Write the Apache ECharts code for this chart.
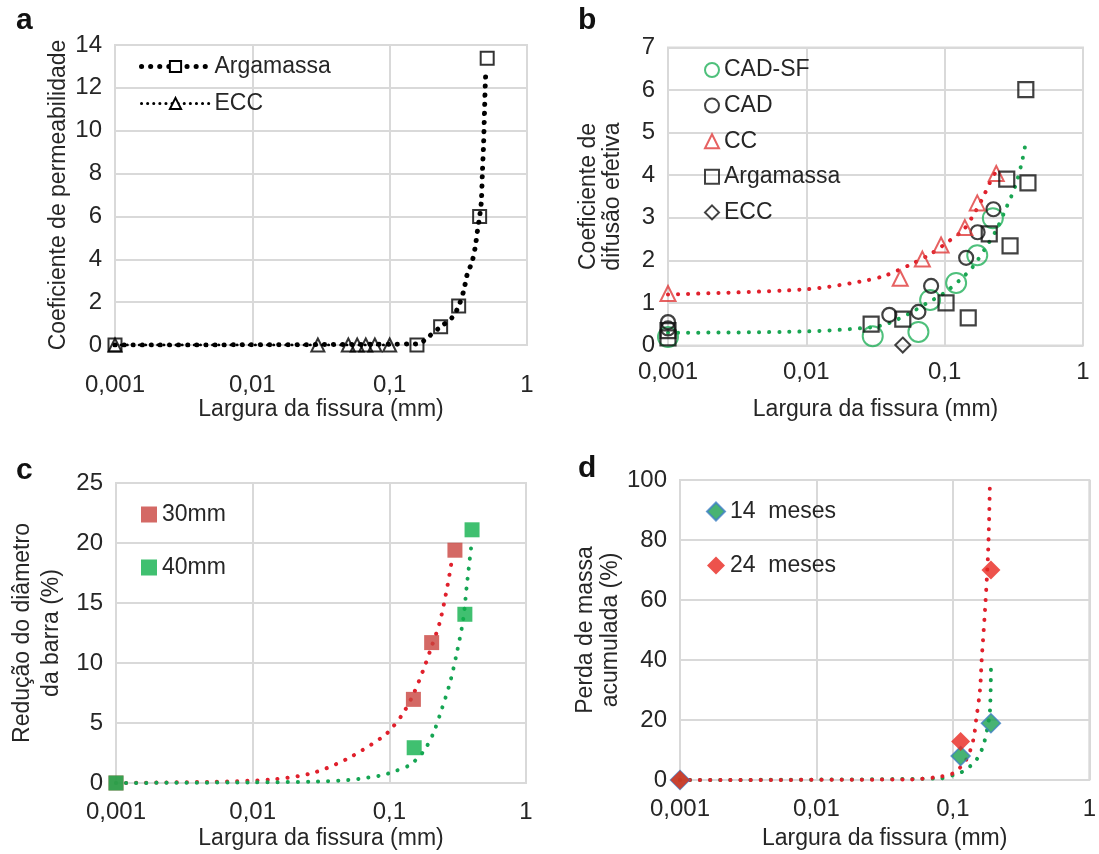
<!DOCTYPE html>
<html>
<head>
<meta charset="utf-8">
<script src="https://cdn.jsdelivr.net/npm/echarts@6/dist/echarts.min.js"></script>
<style>
  html, body { margin: 0; padding: 0; background: #fff; }
  #chart { width: 1099px; height: 854px; }
</style>
</head>
<body>
<div id="chart"></div>
<script>
var xTickLabels = ['0,001', '0,01', '0,1', '1'];

// a - coeficiente de permeabilidade
var aArgX = [0.001, 0.158, 0.235, 0.318, 0.452, 0.513];
var aArgY = [0, 0, 0.85, 1.82, 6.0, 13.38];
var aEccX = [0.001, 0.03, 0.05, 0.058, 0.067, 0.078, 0.1];
var aEccY = [0, 0, 0, 0, 0, 0, 0];
var aArgFitX = [0.001, 0.16, 0.192, 0.235, 0.286, 0.318, 0.347, 0.365, 0.399, 0.42, 0.435, 0.452, 0.465, 0.473, 0.483, 0.49, 0.497, 0.503];
var aArgFitY = [0, 0.05, 0.39, 0.85, 1.29, 1.82, 2.56, 3.24, 3.91, 4.58, 5.3, 6.0, 6.7, 8.0, 9.4, 10.8, 12.2, 12.9];
var aEccFitX = [0.001, 0.1];
var aEccFitY = [0, 0];

// b - coeficiente de difusao efetiva
var bCadSfX = [0.001, 0.0302, 0.0646, 0.0785, 0.121, 0.172, 0.223];
var bCadSfY = [0.2, 0.22, 0.32, 1.07, 1.47, 2.12, 2.99];
var bCadX = [0.001, 0.001, 0.0398, 0.0646, 0.0798, 0.143, 0.173, 0.225];
var bCadY = [0.55, 0.4, 0.72, 0.79, 1.4, 2.06, 2.66, 3.2];
var bCcX = [0.001, 0.0477, 0.069, 0.0942, 0.14, 0.172, 0.236];
var bCcY = [1.22, 1.58, 2.03, 2.36, 2.77, 3.35, 4.04];
var bArgX = [0.001, 0.001, 0.0294, 0.0498, 0.1023, 0.148, 0.21, 0.281, 0.297, 0.386, 0.4];
var bArgY = [0.35, 0.18, 0.5, 0.62, 1.0, 0.65, 2.62, 3.91, 2.34, 6.01, 3.82];
var bEccX = [0.0498];
var bEccY = [0.01];
var bCcFitX = [0.001, 0.01, 0.0244, 0.037, 0.059, 0.08, 0.106, 0.136, 0.161, 0.19, 0.211, 0.236];
var bCcFitY = [1.2, 1.32, 1.5, 1.64, 1.93, 2.16, 2.44, 2.71, 3.06, 3.49, 3.81, 4.1];
var bSfFitX = [0.001, 0.01, 0.03, 0.0392, 0.056, 0.074, 0.098, 0.129, 0.16, 0.2, 0.236, 0.281, 0.323, 0.36, 0.386];
var bSfFitY = [0.3, 0.33, 0.43, 0.52, 0.76, 0.99, 1.22, 1.54, 1.85, 2.32, 2.71, 3.26, 3.73, 4.28, 4.78];

// c - reducao do diametro da barra
var c30X = [0.001, 0.15, 0.204, 0.302];
var c30Y = [0, 6.97, 11.7, 19.4];
var c40X = [0.001, 0.152, 0.357, 0.403];
var c40Y = [0, 2.94, 14.06, 21.1];
var c30FitX = [0.001, 0.005, 0.014, 0.028, 0.05, 0.09, 0.104, 0.126, 0.15, 0.177, 0.2, 0.234, 0.267, 0.285];
var c30FitY = [0, 0.1, 0.3, 0.86, 2.06, 3.86, 4.56, 5.8, 7.4, 9.4, 11.1, 13.4, 16.5, 18.4];
var c40FitX = [0.001, 0.01, 0.03, 0.05, 0.07, 0.09, 0.107, 0.141, 0.177, 0.209, 0.241, 0.277, 0.311, 0.347, 0.37, 0.4];
var c40FitY = [0, 0.05, 0.12, 0.25, 0.45, 0.67, 0.94, 1.5, 2.6, 4.1, 6.1, 8.3, 10.8, 13.6, 16.6, 20.0];

// d - perda de massa acumulada
var d14X = [0.001, 0.114, 0.19];
var d14Y = [0, 8.0, 18.9];
var d24X = [0.001, 0.114, 0.19];
var d24Y = [0, 12.8, 70];
var d24FitX = [0.001, 0.05, 0.074, 0.1, 0.125, 0.141, 0.148, 0.158, 0.1625, 0.172, 0.1815, 0.187];
var d24FitY = [0, 0.2, 0.9, 2.2, 6.7, 13.3, 20, 30, 40, 56.7, 76.7, 100];
var d14FitX = [0.001, 0.08, 0.102, 0.118, 0.137, 0.151, 0.166, 0.178, 0.187, 0.19];
var d14FitY = [0, 0.5, 1.7, 2.8, 5.0, 7.2, 11.1, 16.7, 23.3, 36.9];

function pairs(xs, ys) {
  var out = [];
  for (var i = 0; i < xs.length; i++) out.push([xs[i], ys[i]]);
  return out;
}

var FONT = 'Liberation Sans';
var GRID_COLOR = '#d9d9d9';
var TEXT = '#262626';

function xAxisFor(idx, labelMargin, nameGap) {
  return {
    gridIndex: idx,
    type: 'log',
    logBase: 10,
    min: 0.001,
    max: 1,
    name: 'Largura da fissura (mm)',
    nameLocation: 'middle',
    nameGap: nameGap,
    nameTextStyle: { fontFamily: FONT, fontSize: 23, color: TEXT },
    axisLine: { show: false },
    axisTick: { show: false },
    splitLine: { show: true, lineStyle: { color: GRID_COLOR, width: 2 } },
    axisLabel: {
      fontFamily: FONT, fontSize: 24, color: TEXT, margin: labelMargin,
      formatter: function (v) { return xTickLabels[Math.round(Math.log10(v)) + 3]; }
    }
  };
}

function yAxisFor(idx, max, interval, name, nameGap, lineH) {
  return {
    gridIndex: idx,
    type: 'value',
    min: 0,
    max: max,
    interval: interval,
    name: name,
    nameLocation: 'middle',
    nameRotate: 90,
    nameGap: nameGap,
    nameTextStyle: { fontFamily: FONT, fontSize: 23, color: TEXT, lineHeight: lineH },
    axisLine: { show: false },
    axisTick: { show: false },
    splitLine: { show: true, lineStyle: { color: GRID_COLOR, width: 2 } },
    axisLabel: { fontFamily: FONT, fontSize: 24, color: TEXT, margin: 13 }
  };
}

function fitLine(name, idx, xs, ys, color, width, gap) {
  return {
    name: name,
    type: 'line',
    xAxisIndex: idx,
    yAxisIndex: idx,
    data: pairs(xs, ys),
    smooth: 0.3,
    showSymbol: false,
    symbol: 'none',
    silent: true,
    z: 2,
    lineStyle: { color: color, width: width, type: [0.1, gap], cap: 'round' }
  };
}

function marks(name, idx, xs, ys, symbol, size, style) {
  return {
    name: name,
    type: 'scatter',
    xAxisIndex: idx,
    yAxisIndex: idx,
    data: pairs(xs, ys),
    symbol: symbol,
    symbolSize: size,
    z: 3,
    itemStyle: style
  };
}

function hollow(color, w) {
  return { color: 'rgba(0,0,0,0)', borderColor: color, borderWidth: w };
}

var chart = echarts.init(document.getElementById('chart'), null, { renderer: 'canvas' });

var series = [
  // a
  {
    name: 'Argamassa', type: 'line', xAxisIndex: 0, yAxisIndex: 0,
    data: pairs(aArgFitX, aArgFitY), smooth: 0.3, showSymbol: false,
    symbol: 'rect', symbolSize: 12, z: 2, silent: true,
    itemStyle: { color: '#fff', borderColor: '#000', borderWidth: 2 },
    lineStyle: { color: '#000', width: 5, type: [0.1, 9], cap: 'round' }
  },
  {
    name: 'ECC', type: 'line', xAxisIndex: 0, yAxisIndex: 0,
    data: pairs(aEccFitX, aEccFitY), showSymbol: false,
    symbol: 'triangle', symbolSize: 12, z: 2, silent: true,
    itemStyle: { color: '#fff', borderColor: '#000', borderWidth: 2 },
    lineStyle: { color: '#000', width: 3, type: [0.1, 6], cap: 'round' }
  },
  marks('Argamassa', 0, aArgX, aArgY, 'rect', 13, hollow('#000', 2)),
  marks('ECC', 0, aEccX, aEccY, 'triangle', 13, hollow('#000', 2)),

  // b
  fitLine('b-fit-cc', 1, bCcFitX, bCcFitY, '#e0202c', 4, 10),
  fitLine('b-fit-sf', 1, bSfFitX, bSfFitY, '#1aa552', 4, 10),
  marks('b-CAD-SF', 1, bCadSfX, bCadSfY, 'circle', 20, hollow('#22b05a', 2)),
  marks('b-CAD', 1, bCadX, bCadY, 'circle', 14, hollow('#111', 2.2)),
  marks('b-CC', 1, bCcX, bCcY, 'triangle', 15, hollow('#e03a3a', 2)),
  marks('b-Argamassa', 1, bArgX, bArgY, 'rect', 15, hollow('#111', 2.2)),
  marks('b-ECC', 1, bEccX, bEccY, 'diamond', 15, hollow('#111', 2)),

  // c
  fitLine('c-fit-30', 2, c30FitX, c30FitY, '#e0202c', 4, 10),
  fitLine('c-fit-40', 2, c40FitX, c40FitY, '#15a553', 4, 10),
  marks('30mm', 2, c30X, c30Y, 'rect', 15, { color: '#c9433f' }),
  marks('40mm', 2, c40X, c40Y, 'rect', 15, { color: '#10b04c' }),

  // d
  fitLine('d-fit-14', 3, d14FitX, d14FitY, '#14a050', 4, 10),
  fitLine('d-fit-24', 3, d24FitX, d24FitY, '#e0202c', 4, 10),
  marks('14  meses', 3, d14X, d14Y, 'diamond', 19, { color: '#1aa050', borderColor: '#3f7fc4', borderWidth: 1.5 }),
  marks('24  meses', 3, d24X, d24Y, 'diamond', 19, { color: '#e8271f' })
];

var gridBox = { show: true, borderColor: GRID_COLOR, borderWidth: 2, backgroundColor: 'transparent' };
var legendText = { fontFamily: FONT, fontSize: 23, color: TEXT };

var option = {
  animation: false,
  backgroundColor: '#fff',
  grid: [
    Object.assign({ left: 115, top: 45, width: 412, height: 300 }, gridBox),
    Object.assign({ left: 668, top: 47.5, width: 415, height: 298 }, gridBox),
    Object.assign({ left: 116, top: 483, width: 410, height: 300 }, gridBox),
    Object.assign({ left: 680, top: 480, width: 417, height: 300 }, gridBox)
  ],
  xAxis: [
    xAxisFor(0, 28, 52),
    xAxisFor(1, 15, 53),
    xAxisFor(2, 17, 44),
    xAxisFor(3, 17, 47)
  ],
  yAxis: [
    yAxisFor(0, 14, 2, 'Coeficiente de permeabilidade', 40, 26),
    yAxisFor(1, 7, 1, 'Coeficiente de\ndifusão efetiva', 43, 24),
    yAxisFor(2, 25, 5, 'Redução do diâmetro\nda barra (%)', 50, 29),
    yAxisFor(3, 100, 20, 'Perda de massa\nacumulada (%)', 57, 25)
  ],
  legend: [
    {
      data: [
        { name: 'Argamassa', lineStyle: { width: 5, type: [0.1, 9], cap: 'round' } },
        { name: 'ECC', lineStyle: { width: 3, type: [0.1, 6], cap: 'round' } }
      ],
      orient: 'vertical', left: 134, top: 50,
      itemWidth: 68, itemHeight: 14, itemGap: 14, selectedMode: false,
      textStyle: legendText
    },
    {
      data: ['b-CAD-SF', 'b-CAD', 'b-CC', 'b-Argamassa', 'b-ECC'], orient: 'vertical', left: 699, top: 53.5,
      itemWidth: 14, itemHeight: 14, itemGap: 12.6, selectedMode: false,
      formatter: function (n) { return n.slice(2); },
      textStyle: legendText
    },
    {
      data: ['30mm', '40mm'], orient: 'vertical', left: 136, top: 498,
      itemWidth: 16, itemHeight: 16, itemGap: 30, selectedMode: false,
      textStyle: legendText
    },
    {
      data: ['14  meses', '24  meses'], orient: 'vertical', left: 701, top: 495,
      itemWidth: 18, itemHeight: 18, itemGap: 31, selectedMode: false,
      textStyle: legendText
    }
  ],
  graphic: [
    { type: 'text', left: 16, top: 6, style: { text: 'a', font: 'bold 30px "Liberation Sans"', fill: '#111' } },
    { type: 'text', left: 578, top: 6, style: { text: 'b', font: 'bold 30px "Liberation Sans"', fill: '#111' } },
    { type: 'text', left: 16, top: 456, style: { text: 'c', font: 'bold 30px "Liberation Sans"', fill: '#111' } },
    { type: 'text', left: 578, top: 454, style: { text: 'd', font: 'bold 30px "Liberation Sans"', fill: '#111' } }
  ],
  series: series
};

chart.setOption(option);
</script>
</body>
</html>
